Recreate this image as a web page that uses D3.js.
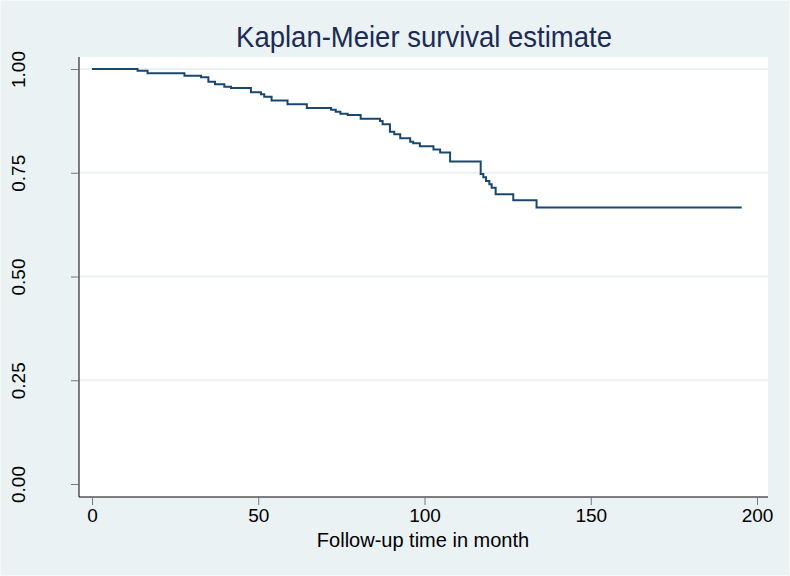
<!DOCTYPE html>
<html>
<head>
<meta charset="utf-8">
<script src="https://cdn.jsdelivr.net/npm/d3@7"></script>
<style>
  html, body { margin: 0; padding: 0; background: #EAF2F3; }
  svg { display: block; }
</style>
</head>
<body>
<svg id="chart" width="790" height="576"></svg>
<script>
// ---- Data ----
const stepTimes = [0, 13.7, 16.7, 27.8, 32.8, 35.0, 37.0, 39.8, 41.8, 47.8, 50.8, 51.8, 54.0, 58.8, 64.6,
  71.9, 73.3, 74.7, 76.9, 80.8, 86.6, 87.4, 89.6, 90.9, 92.7, 95.7, 96.6, 98.6, 102.7, 104.7, 107.7,
  116.9, 117.7, 118.5, 119.5, 120.2, 121.4, 126.7, 133.7];
const survival = [1.000, 0.996, 0.990, 0.984, 0.980, 0.969, 0.963, 0.957, 0.954, 0.944, 0.939, 0.933, 0.924, 0.915, 0.906,
  0.902, 0.897, 0.892, 0.889, 0.880, 0.875, 0.867, 0.849, 0.843, 0.833, 0.825, 0.821, 0.814, 0.806, 0.799, 0.777,
  0.747, 0.739, 0.730, 0.722, 0.714, 0.698, 0.684, 0.666];
const endTime = 195.4;
const xTicks = [0, 50, 100, 150, 200];
const yTicks = [0, 0.25, 0.5, 0.75, 1.0];
const titleText = "Kaplan-Meier survival estimate";
const xTitle = "Follow-up time in month";

// ---- Layout ----
const svg = d3.select("#chart");
const W = 790, H = 576;
const plot = { left: 79, right: 768, top: 57, bottom: 497 };
const x = d3.scaleLinear().domain([0, 200]).range([92, 757]);
const y = d3.scaleLinear().domain([0, 1]).range([484, 69]);
const FONT = "'Liberation Sans', Arial, Helvetica, sans-serif";

svg.append("rect").attr("width", W).attr("height", H).attr("fill", "#EAF2F3");
svg.append("rect").attr("x", 0.5).attr("y", 0.5).attr("width", W - 1).attr("height", H - 1)
  .attr("fill", "none").attr("stroke", "#F4F8F9").attr("stroke-width", 1);

// plot region
svg.append("rect").attr("x", plot.left).attr("y", plot.top)
  .attr("width", plot.right - plot.left).attr("height", plot.bottom - plot.top)
  .attr("fill", "#FFFFFF");

// gridlines
svg.append("g").selectAll("line").data(yTicks.filter(d => d > 0)).join("line")
  .attr("x1", plot.left).attr("x2", plot.right)
  .attr("y1", d => y(d)).attr("y2", d => y(d))
  .attr("stroke", "#EAF2F3").attr("stroke-width", 2);

// y axis
const yAxis = d3.axisLeft(y).tickValues(yTicks).tickSize(8).tickPadding(0).tickFormat(d3.format(".2f"));
const gy = svg.append("g").attr("transform", `translate(${plot.left},0)`).call(yAxis);
gy.select(".domain").attr("d", `M0,${plot.top}V${plot.bottom}`).attr("stroke", "#000").attr("stroke-width", 1);
gy.selectAll(".tick line").attr("stroke", "#777").attr("stroke-width", 1);
gy.selectAll(".tick text").remove();
gy.selectAll(".tick").append("text")
  .attr("transform", "translate(-68,0) rotate(-90)")
  .attr("text-anchor", "middle").attr("dy", "0.72em")
  .attr("fill", "#000").style("font-family", FONT).style("font-size", "19px")
  .text(d => d3.format(".2f")(d));

// x axis
const xAxis = d3.axisBottom(x).tickValues(xTicks).tickSize(8).tickPadding(4).tickFormat(d3.format("d"));
const gx = svg.append("g").attr("transform", `translate(0,${plot.bottom})`).call(xAxis);
gx.select(".domain").attr("d", `M${plot.left},0H${plot.right}`).attr("stroke", "#000").attr("stroke-width", 1);
gx.selectAll(".tick line").attr("stroke", "#777").attr("stroke-width", 1);
gx.selectAll(".tick text").attr("fill", "#000").style("font-family", FONT).style("font-size", "19px");

// axis title
svg.append("text").attr("x", 423).attr("y", 547)
  .attr("text-anchor", "middle").attr("fill", "#000")
  .style("font-family", FONT).style("font-size", "20px").text(xTitle);

// title
svg.append("text").attr("transform", "translate(424,47) scale(1,1.05)")
  .attr("text-anchor", "middle").attr("fill", "#1C2B55")
  .style("font-family", FONT).style("font-size", "27.5px").text(titleText);

// KM step curve
const pts = stepTimes.map((t, i) => [t, survival[i]]);
pts.push([endTime, survival[survival.length - 1]]);
const line = d3.line().x(d => x(d[0])).y(d => y(d[1])).curve(d3.curveStepAfter);
svg.append("path").datum(pts).attr("d", line)
  .attr("fill", "none").attr("stroke", "#1A476F").attr("stroke-width", 2);
</script>
</body>
</html>
